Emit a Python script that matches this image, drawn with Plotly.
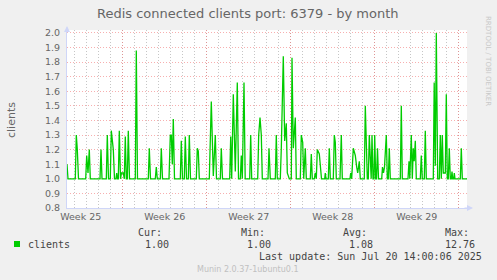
import plotly.graph_objects as go
import pandas as pd

# ---- data (hours since 2025-06-17 00:00, connected clients) ----
hours = [8.6, 10.6, 25.2, 27.2, 29.2, 31.6, 46, 48, 50.6, 53.2, 55.2,
         74.6, 76.6, 78.6, 87.2, 89.2, 91.6, 95.2, 97.2, 101.2, 103.6,
         106.6, 108, 109.6, 111.2, 113.2, 115.6, 117.6, 121.2, 123.2, 125.2,
         127.2, 129.2, 131.2, 133.6, 145.2, 147.2, 149.6, 171.2, 173.2, 175.6,
         185.2, 187.2, 189.2, 195.2, 197.2, 199.6, 212.6, 215.2, 217.2, 219.2,
         221.2, 223.6, 235.2, 237.2, 239.6, 243.2, 245.2, 247.6, 251.2, 253.2,
         255.6, 267.2, 269.2, 271.2, 273.2, 293.2, 295.2, 297.2, 301.2, 305.2,
         307.6, 315.2, 317.2, 319.6, 334, 336, 338, 341.2, 345.2, 349.2,
         351.6, 355.2, 357.2, 359.2, 362.6, 365, 374, 376, 378, 390,
         392, 394.6, 397.2, 399.2, 410.6, 412.6, 415.2, 425.2, 427.2, 429.2,
         435.2, 437.2, 441.2, 444, 447.2, 449.2, 451.2, 453.2, 457.2, 458.6,
         461.2, 465.2, 467.2, 475.2, 477.2, 480, 482, 485.2, 487.2, 495.2,
         497.2, 499.2, 503.2, 505.2, 507.2, 509.2, 513.2, 516, 517.6, 524,
         525.2, 526.6, 531.2, 533.2, 535.2, 541.2, 543.2, 545.2, 547.2, 554.6,
         556, 557.2, 559.2, 574.6, 576, 578, 581.2, 585.2, 588, 590,
         593.2, 595.2, 603.2, 605.2, 609.2, 611.2, 613.2, 615.6, 617, 618.6,
         620.6, 622.6, 624, 626, 627.6, 629.6, 631.6, 638, 639.6, 641.6,
         643.6, 647.2, 649.2, 651.2, 653.2, 655.2, 675.2, 677.2, 679.2, 690.6,
         692.6, 694.2, 695.2, 697.2, 699.2, 701.2, 703, 705.2, 707.2, 715.2,
         717.2, 719.2, 723.2, 725.2, 727.2, 741.2, 743, 745.2, 747.2, 750,
         753.2, 755.2, 757.2, 759.2, 761.2, 765.2, 767.2, 769.2, 771.2, 773.2,
         775.2, 777.2, 778.6, 780, 782, 783.2, 784.6, 795.2, 797.2, 799.2,
         808.6]
clients = [1.10, 1.00, 1.00, 1.30, 1.20, 1.00, 1.00, 1.16, 1.04, 1.20, 1.00,
           1.00, 1.20, 1.00, 1.00, 1.30, 1.00, 1.00, 1.33, 1.20, 1.00,
           1.00, 1.04, 1.00, 1.00, 1.33, 1.00, 1.04, 1.04, 1.00, 1.29,
           1.00, 1.00, 1.33, 1.00, 1.00, 1.88, 1.00, 1.00, 1.21, 1.00,
           1.00, 1.08, 1.00, 1.00, 1.21, 1.00, 1.00, 1.30, 1.30, 1.10,
           1.41, 1.00, 1.00, 1.26, 1.00, 1.00, 1.29, 1.00, 1.00, 1.30,
           1.00, 1.00, 1.21, 1.19, 1.00, 1.00, 1.30, 1.53, 1.02, 1.30,
           1.00, 1.00, 1.21, 1.00, 1.00, 1.29, 1.00, 1.58, 1.05, 1.66,
           1.00, 1.00, 1.16, 1.00, 1.66, 1.00, 1.00, 1.30, 1.00, 1.00,
           1.30, 1.42, 1.30, 1.00, 1.00, 1.21, 1.00, 1.00, 1.30, 1.00,
           1.00, 1.21, 1.84, 1.26, 1.38, 1.04, 1.02, 1.00, 1.00, 1.83,
           1.21, 1.42, 1.00, 1.00, 1.30, 1.25, 1.00, 1.21, 1.00, 1.00,
           1.17, 1.00, 1.00, 1.04, 1.00, 1.20, 1.17, 1.08, 1.00, 1.00,
           1.04, 1.00, 1.00, 1.21, 1.00, 1.00, 1.30, 1.25, 1.00, 1.00,
           1.30, 1.30, 1.00, 1.00, 1.04, 1.00, 1.21, 1.16, 1.08, 1.04,
           1.12, 1.00, 1.00, 1.50, 1.00, 1.00, 1.30, 1.00, 1.00, 1.30,
           1.00, 1.00, 1.30, 1.00, 1.00, 1.21, 1.00, 1.00, 1.08, 1.04,
           1.08, 1.30, 1.00, 1.00, 1.21, 1.00, 1.00, 1.50, 1.00, 1.00,
           1.12, 1.00, 1.20, 1.30, 1.00, 1.21, 1.12, 1.26, 1.00, 1.00,
           1.16, 1.00, 1.00, 1.33, 1.00, 1.00, 1.66, 1.09, 2.00, 1.00,
           1.00, 1.30, 1.00, 1.30, 1.04, 1.04, 1.58, 1.00, 1.00, 1.21,
           1.00, 1.00, 1.05, 1.00, 1.00, 1.04, 1.00, 1.00, 1.21, 1.00,
           1.00]

week_labels = ["Week 25", "Week 26", "Week 27", "Week 28", "Week 29"]
week_label_pos = ["2025-06-18 12:00", "2025-06-25 12:00", "2025-07-02 12:00",
                  "2025-07-09 12:00", "2025-07-16 12:00"]
week_starts = ["2025-06-22", "2025-06-29", "2025-07-06", "2025-07-13", "2025-07-20"]
y_ticks = [0.8, 0.9, 1.0, 1.1, 1.2, 1.3, 1.4, 1.5, 1.6, 1.7, 1.8, 1.9, 2.0]
stat_names = ["Cur:", "Min:", "Avg:", "Max:"]
stat_values = ["1.00", "1.00", "1.08", "12.76"]
x_range = ["2025-06-17 08:36", "2025-07-20 16:36"]

t0 = pd.Timestamp("2025-06-17 00:00")
times = t0 + pd.to_timedelta(hours, unit="h")

FONT = "DejaVu Sans"
MONO = "DejaVu Sans Mono"
FC = "#666666"
AXIS = "#CFD6F8"
GREEN = "#00CC00"
RED_GRID = "rgba(240,110,110,0.55)"
GREY_GRID = "rgba(160,160,160,0.6)"
DOTS = "1px,2px"

# plot area in pixels: x 67..467, y 30..208 ; helpers for paper coords
L, R, T, B = 67, 467, 30, 208
def px(x):
    return (x - L) / (R - L)
def py(y):
    return (B - y) / (B - T)

fig = go.Figure()
fig.add_trace(go.Scatter(x=times, y=clients, mode="lines", name="clients",
                         line=dict(color=GREEN, width=1.3), hoverinfo="x+y"))
# invisible helper on overlay axis so that its grid is drawn
fig.add_trace(go.Scatter(x=x_range, y=[None, None], xaxis="x2", mode="lines",
                         showlegend=False, hoverinfo="skip"))

fig.update_layout(
    width=497, height=280,
    margin=dict(l=L, r=497 - R, t=T, b=280 - B),
    paper_bgcolor="#F0F0F0", plot_bgcolor="#FFFFFF",
    showlegend=False,
    xaxis=dict(type="date", range=x_range, tickmode="array",
               tickvals=week_label_pos, ticktext=week_labels,
               showgrid=False, zeroline=False,
               showline=True, linecolor=AXIS, linewidth=1,
               ticks="", tickfont=dict(family=FONT, size=9.5, color=FC),
               minor=dict(dtick=86400000, tick0="2025-06-15", showgrid=True,
                          gridcolor=GREY_GRID, griddash=DOTS,
                          gridwidth=1, ticks=""),
               fixedrange=True),
    xaxis2=dict(type="date", range=x_range, overlaying="x", side="bottom",
                tickmode="array", tickvals=week_starts, showticklabels=False,
                showgrid=True, gridcolor=RED_GRID, griddash=DOTS,
                gridwidth=1, zeroline=False, showline=False, ticks=""),
    yaxis=dict(range=[0.8, 2.02], tickmode="array", tickvals=y_ticks,
               tickformat=".1f", showgrid=True,
               gridcolor=RED_GRID, griddash=DOTS, gridwidth=1,
               zeroline=False, showline=True, linecolor=AXIS, linewidth=1,
               ticks="", ticklabelstandoff=4,
               tickfont=dict(family=FONT, size=9.5, color=FC), fixedrange=True),
)

ann = []
# title
ann.append(dict(text="Redis connected clients port: 6379 - by month",
                x=px(248), y=py(13.5), xref="paper", yref="paper",
                xanchor="center", yanchor="middle", showarrow=False,
                font=dict(family=FONT, size=13, color=FC)))
# y-axis title
ann.append(dict(text="clients", x=px(11), y=py(120), xref="paper", yref="paper",
                xanchor="center", yanchor="middle", showarrow=False, textangle=-90,
                font=dict(family=FONT, size=11, color=FC)))
# rrdtool watermark
ann.append(dict(text="RRDTOOL / TOBI OETIKER", x=px(488), y=py(61), xref="paper",
                yref="paper", xanchor="center", yanchor="middle", showarrow=False,
                textangle=90, font=dict(family=FONT, size=7, color="#C8C8C8")))
# axis arrows
ann.append(dict(text="", x=px(473), y=py(B), xref="paper", yref="paper",
                ax=-10, ay=0, showarrow=True, arrowhead=2, arrowsize=1,
                arrowwidth=1.2, arrowcolor=AXIS))
ann.append(dict(text="", x=px(L), y=py(26), xref="paper", yref="paper",
                ax=0, ay=8, showarrow=True, arrowhead=2, arrowsize=1,
                arrowwidth=1.2, arrowcolor=AXIS))
# legend
ann.append(dict(text="clients", x=px(26), y=py(244), xref="paper", yref="paper",
                xanchor="left", yanchor="middle", showarrow=False,
                font=dict(family=MONO, size=10, color="#444444")))
name_right = [163.5, 267, 368.5, 470.5]
val_right = [170.5, 273, 375, 477]
for nm, vv, nr, vr in zip(stat_names, stat_values, name_right, val_right):
    ann.append(dict(text=nm, x=px(nr), y=py(232.7), xref="paper", yref="paper",
                    xanchor="right", yanchor="middle", showarrow=False,
                    font=dict(family=MONO, size=10, color="#444444")))
    ann.append(dict(text=vv, x=px(vr), y=py(244), xref="paper", yref="paper",
                    xanchor="right", yanchor="middle", showarrow=False,
                    font=dict(family=MONO, size=10, color="#444444")))
ann.append(dict(text="Last update: Sun Jul 20 14:00:06 2025", x=px(483.5), y=py(256),
                xref="paper", yref="paper", xanchor="right", yanchor="middle",
                showarrow=False, font=dict(family=MONO, size=10, color="#444444")))
ann.append(dict(text="Munin 2.0.37-1ubuntu0.1", x=px(248), y=py(269.5),
                xref="paper", yref="paper", xanchor="center", yanchor="middle",
                showarrow=False, font=dict(family=FONT, size=8, color="#C0C0C0")))
fig.update_layout(annotations=ann)

# legend colour swatch
fig.add_shape(type="rect", xref="paper", yref="paper",
              x0=px(14), x1=px(20), y0=py(247), y1=py(241),
              fillcolor=GREEN, line=dict(width=0))

fig.write_html("out.html", config={"displayModeBar": False})
